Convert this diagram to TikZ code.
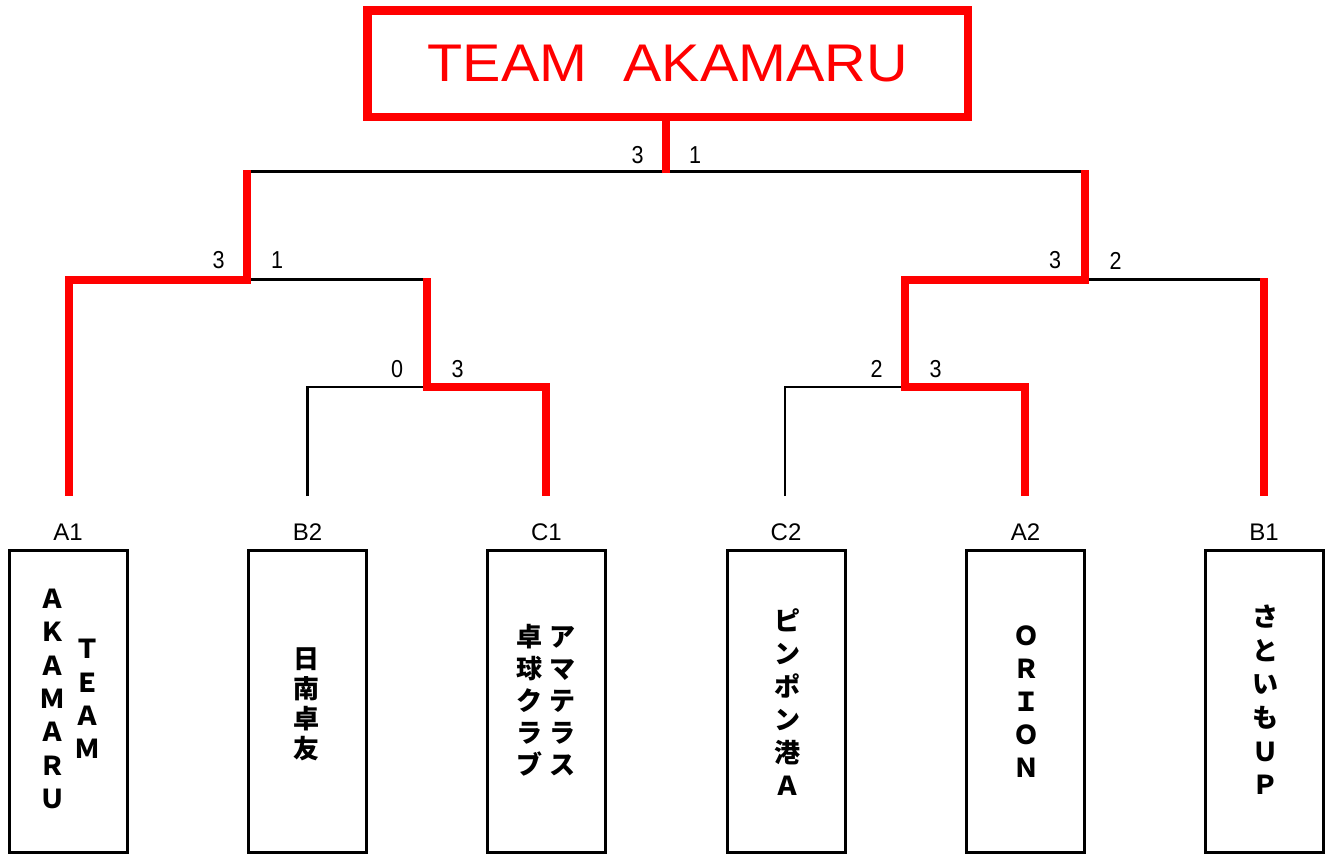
\documentclass[tikz,border=0pt]{standalone}
\usepackage{fontspec}
\setmainfont{Liberation Sans}
\newfontfamily\jpfont{Noto Sans CJK JP}
\definecolor{bred}{RGB}{255,0,0}
\tikzset{
  redline/.style={draw=bred,line width=8pt,line join=miter},
  blackline/.style={draw=black,line width=2.7pt},
  entrybox/.style={draw=black,line width=3pt,minimum width=118pt,minimum height=302pt,inner sep=0pt},
  titlebox/.style={draw=bred,text=bred,line width=8.5pt,minimum width=600.5pt,minimum height=106.5pt,inner sep=0pt,
    font=\fontsize{53}{60}\selectfont},
  col/.style={align=center,inner sep=0pt,font=\jpfont\bfseries\fontsize{26}{#1}\selectfont},
  score/.style={inner sep=0pt,font=\fontsize{24.5}{24}\selectfont},
  seed/.style={inner sep=0pt,font=\fontsize{24}{24}\selectfont},
}
\newcommand{\scoredigit}[1]{\scalebox{0.88}[1]{#1}}
\begin{document}
\begin{tikzpicture}[x=1pt,y=-1pt]
\useasboundingbox[fill=white] (0,0) rectangle (1329,855);
% title
\node[titlebox] (title) at (667.75,63.75) {\scalebox{1.085}[1]{TEAM\hspace{33pt}AKAMARU}};
% boxes
\node[entrybox] (bA1) at (68,701) {};
\node[entrybox] (bB2) at (307.5,701) {};
\node[entrybox] (bC1) at (546.5,701) {};
\node[entrybox] (bC2) at (786,701) {};
\node[entrybox] (bA2) at (1025.5,701) {};
\node[entrybox] (bB1) at (1264,701) {};
% seed labels
\node[seed] (lA1) at (68,532) {A1};
\node[seed] (lB2) at (307.5,532) {B2};
\node[seed] (lC1) at (546.5,532) {C1};
\node[seed] (lC2) at (786,532) {C2};
\node[seed] (lA2) at (1025.5,532) {A2};
\node[seed] (lB1) at (1264,532) {B1};
% team names (vertical)
\node[col=33.3] (tA1a) at (52,699) {Ａ\\Ｋ\\Ａ\\Ｍ\\Ａ\\Ｒ\\Ｕ};
\node[col=33.3] (tA1b) at (87,699) {Ｔ\\Ｅ\\Ａ\\Ｍ};
\node[col=30] (tB2) at (306.5,704) {日\\南\\卓\\友};
\node[col=32] (tC1a) at (562.5,701.5) {ア\\マ\\テ\\ラ\\ス};
\node[col=32] (tC1b) at (529.5,700.5) {卓\\球\\ク\\ラ\\ブ};
\node[col=33] (tC2) at (787,702.5) {ピ\\ン\\ポ\\ン\\港\\Ａ};
\node[col=33] (tA2) at (1026,701.5) {Ｏ\\Ｒ\\Ｉ\\Ｏ\\Ｎ};
\node[col=33.6] (tB1) at (1265.5,700) {さ\\と\\い\\も\\Ｕ\\Ｐ};
% junction coordinates
\coordinate (r0) at (666,173.3);
\coordinate (L1) at (247,171.5);
\coordinate (R1) at (1084.5,171.5);
\coordinate (L2a) at (68.5,279.5);
\coordinate (L2b) at (426.5,279.5);
\coordinate (R2a) at (905,279.5);
\coordinate (R2b) at (1263.6,279.5);
\coordinate (L3a) at (307.5,387);
\coordinate (L3b) at (546,387);
\coordinate (R3a) at (785,387);
\coordinate (R3b) at (1024.5,387);
\coordinate (eA1) at (68.5,496);
\coordinate (eB2) at (307.5,496);
\coordinate (eC1) at (546,496);
\coordinate (eC2) at (785,496);
\coordinate (eA2) at (1024.5,496);
\coordinate (eB1) at (1263.6,496);
% black (losing) lines
\draw[blackline] (L1) -- (R1);
\draw[blackline] (L1 |- L2a) -- (L2b);
\draw[blackline] (R1 |- R2a) -- (R2b);
\draw[blackline] (eB2) -- (L3a) -- (L2b |- L3a);
\draw[blackline] (eC2) -- (R3a) -- (R2a |- R3a);
% red (winning) lines
\draw[redline] (r0) -- (r0 |- title.south);
\draw[redline] ([yshift=1.4pt]L1) |- (L2a) -- (eA1);
\draw[redline] ([yshift=1.4pt]L2b) |- (L3b) -- (eC1);
\draw[redline] ([yshift=1.4pt]R1) |- (R2a) |- (R3b) -- (eA2);
\draw[redline] ([yshift=1.4pt]R2b) -- (eB1);
% scores
\node[score] (s1) at (637.5,154.7) {\scoredigit{3}};
\node[score] (s2) at (695,154.7) {\scoredigit{1}};
\node[score] (s3) at (218.5,260.5) {\scoredigit{3}};
\node[score] (s4) at (277,260.5) {\scoredigit{1}};
\node[score] (s5) at (397,369) {\scoredigit{0}};
\node[score] (s6) at (457.5,369) {\scoredigit{3}};
\node[score] (s7) at (1055,260.5) {\scoredigit{3}};
\node[score] (s8) at (1115.5,260.5) {\scoredigit{2}};
\node[score] (s9) at (876.5,369) {\scoredigit{2}};
\node[score] (s10) at (935.5,369) {\scoredigit{3}};
\end{tikzpicture}
\end{document}
